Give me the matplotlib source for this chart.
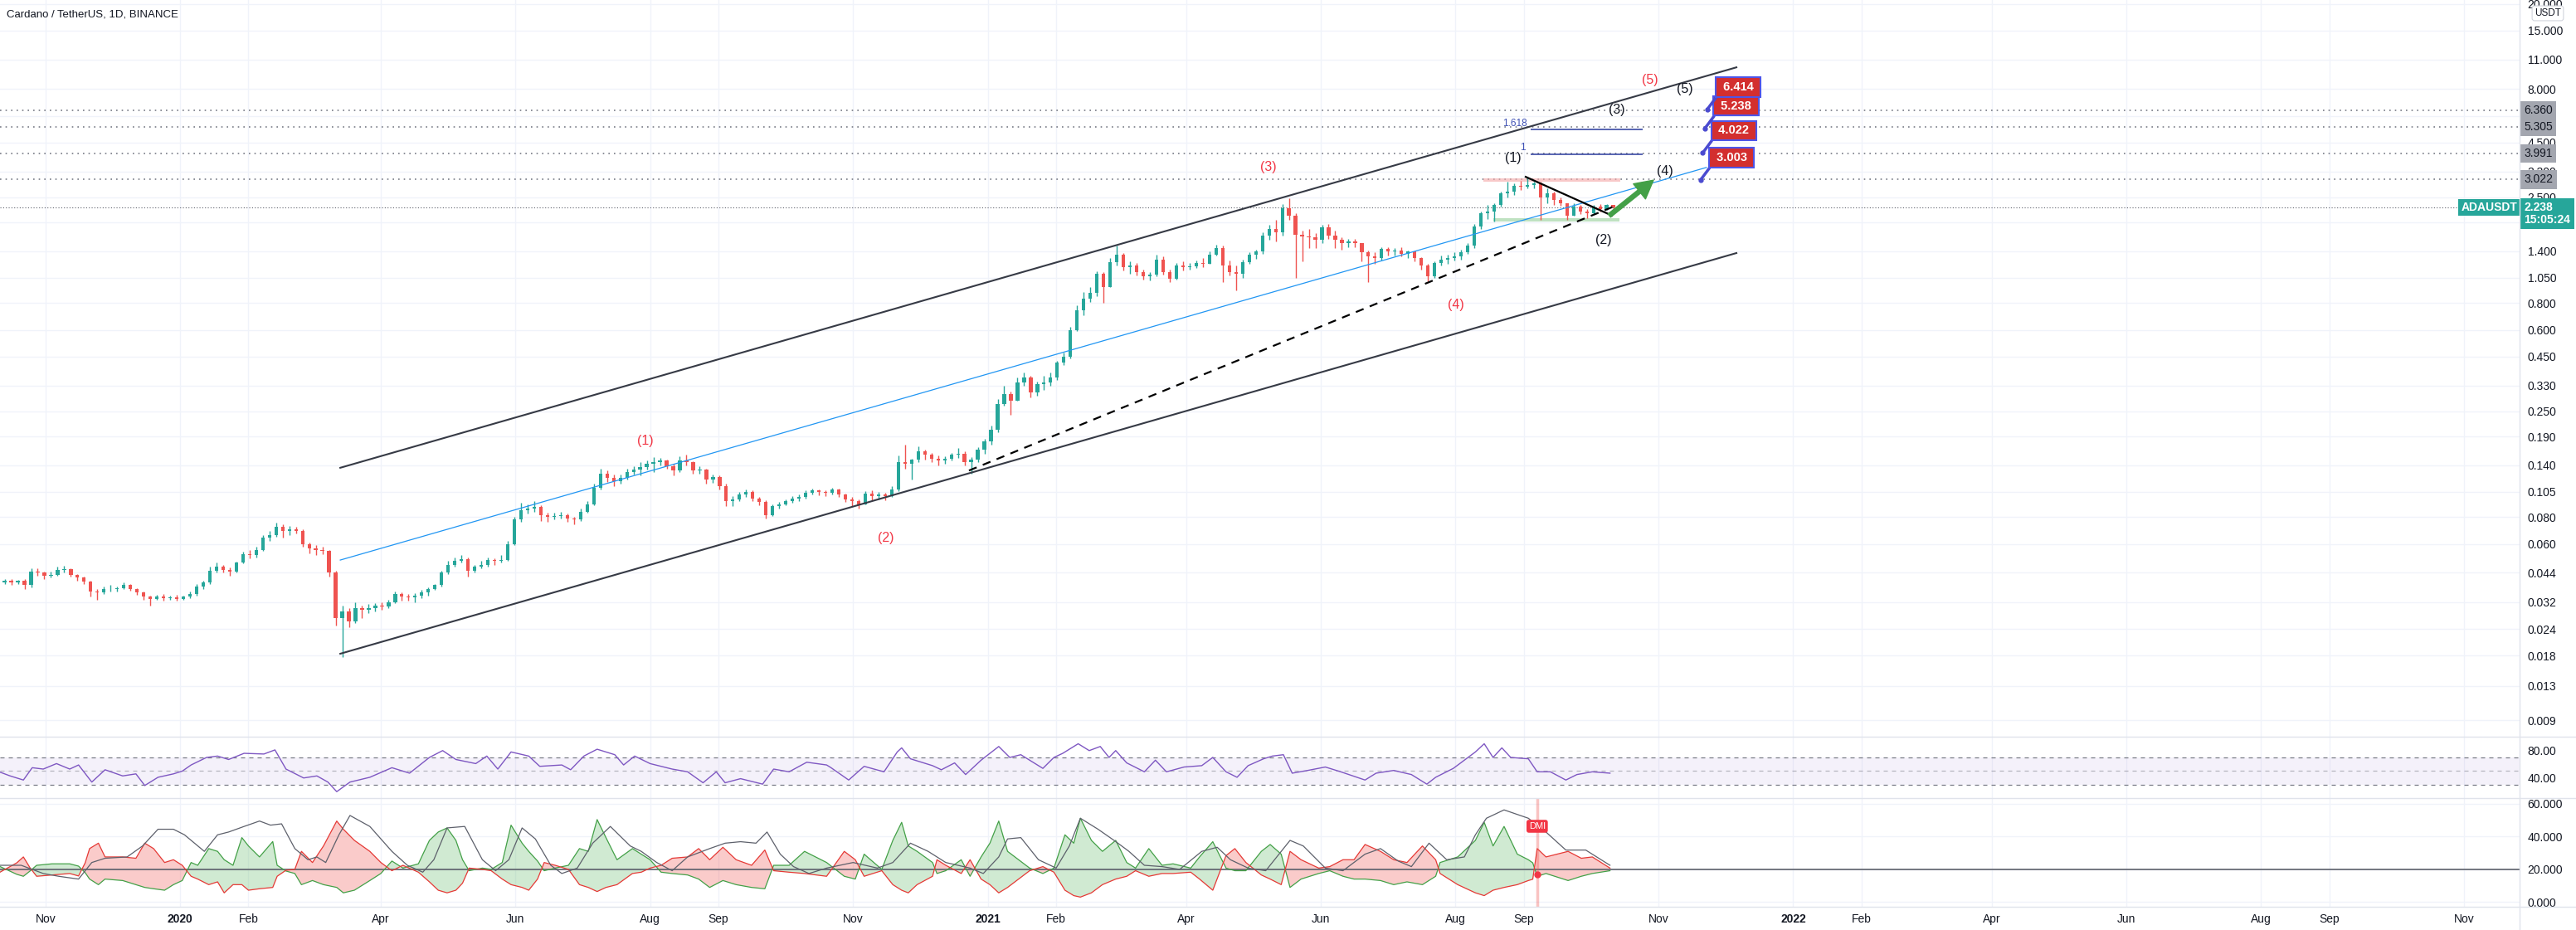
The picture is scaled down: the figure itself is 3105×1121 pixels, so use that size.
import numpy as np
import pandas as pd
import matplotlib
matplotlib.use('Agg')
import matplotlib.pyplot as plt
import matplotlib.transforms as mtransforms
from matplotlib.lines import Line2D
from matplotlib.ticker import FuncFormatter, NullLocator

plt.rcParams['font.family'] = ['Liberation Sans Narrow', 'Liberation Sans', 'DejaVu Sans']

# ---- price data: 3-day candles (ADA/USDT) ----
candle_start = '2019-10-12'
candle_step = 3
first_open = 0.0395
close = [
    0.0405, 0.0398, 0.0402, 0.0385, 0.0445, 0.0440, 0.0425, 0.0430, 0.0455, 0.0458,
    0.0430, 0.0418, 0.0400, 0.0360, 0.0355, 0.0368, 0.0370, 0.0372, 0.0385, 0.0370,
    0.0355, 0.0340, 0.0332, 0.0340, 0.0335, 0.0338, 0.0332, 0.0340, 0.0350, 0.0380,
    0.0395, 0.0450, 0.0470, 0.0455, 0.0445, 0.0490, 0.0535, 0.0530, 0.0560, 0.0640,
    0.0660, 0.0720, 0.0690, 0.0700, 0.0690, 0.0600, 0.0570, 0.0560, 0.0555, 0.0440,
    0.0270, 0.0290, 0.0260, 0.0300, 0.0295, 0.0300, 0.0310, 0.0305, 0.0320, 0.0350,
    0.0340, 0.0338, 0.0345, 0.0355, 0.0370, 0.0385, 0.0440, 0.0480, 0.0500, 0.0510,
    0.0450, 0.0470, 0.0480, 0.0505, 0.0500, 0.0505, 0.0600, 0.0780, 0.0860, 0.0880,
    0.0890, 0.0820, 0.0800, 0.0810, 0.0820, 0.0790, 0.0780, 0.0850, 0.0920, 0.1100,
    0.1280, 0.1220, 0.1180, 0.1220, 0.1300, 0.1330, 0.1370, 0.1420, 0.1450, 0.1470,
    0.1380, 0.1320, 0.1470, 0.1440, 0.1320, 0.1330, 0.1200, 0.1230, 0.1120, 0.0950,
    0.0970, 0.1020, 0.1050, 0.0980, 0.0940, 0.0820, 0.0900, 0.0920, 0.0950, 0.0980,
    0.0990, 0.1040, 0.1070, 0.1050, 0.1040, 0.1080, 0.1020, 0.0970, 0.0950, 0.0920,
    0.1030, 0.1000, 0.1020, 0.1000, 0.1080, 0.1450, 0.1420, 0.1480, 0.1620, 0.1560,
    0.1500, 0.1470, 0.1500, 0.1560, 0.1580, 0.1440, 0.1480, 0.1650, 0.1810, 0.2050,
    0.2700, 0.3000, 0.2800, 0.3400, 0.3600, 0.3050, 0.3350, 0.3400, 0.3600, 0.4200,
    0.4500, 0.6000, 0.7400, 0.8400, 0.8900, 1.1000, 0.9500, 1.2400, 1.3500, 1.1800,
    1.2000, 1.1200, 1.0700, 1.0900, 1.2800, 1.1200, 1.0400, 1.2000, 1.1800, 1.1900,
    1.2300, 1.2200, 1.3500, 1.4500, 1.2000, 1.1200, 1.1000, 1.2400, 1.3400, 1.3900,
    1.6500, 1.7800, 1.7200, 2.2200, 2.0500, 1.6700, 1.6400, 1.6200, 1.5800, 1.8000,
    1.6500, 1.5800, 1.5200, 1.5500, 1.5200, 1.3800, 1.3200, 1.3000, 1.4300, 1.4000,
    1.4100, 1.3600, 1.3900, 1.3000, 1.2000, 1.0700, 1.2300, 1.2800, 1.3000, 1.3200,
    1.3800, 1.4800, 1.8200, 2.1000, 2.1500, 2.3000, 2.6000, 2.6500, 2.8300, 2.8000,
    2.8600, 2.9000, 2.5000, 2.6000, 2.4200, 2.3500, 2.0500, 2.2500, 2.1500, 2.1000,
    2.2500, 2.2000, 2.3000, 2.2380,
]
high = [
    0.0412, 0.0410, 0.0408, 0.0410, 0.0460, 0.0460, 0.0445, 0.0445, 0.0470, 0.0475,
    0.0460, 0.0435, 0.0420, 0.0405, 0.0370, 0.0380, 0.0385, 0.0380, 0.0395, 0.0390,
    0.0372, 0.0358, 0.0345, 0.0348, 0.0350, 0.0345, 0.0348, 0.0345, 0.0360, 0.0390,
    0.0405, 0.0470, 0.0490, 0.0480, 0.0465, 0.0495, 0.0550, 0.0560, 0.0580, 0.0660,
    0.0690, 0.0755, 0.0740, 0.0730, 0.0720, 0.0700, 0.0610, 0.0590, 0.0580, 0.0560,
    0.0450, 0.0310, 0.0300, 0.0320, 0.0310, 0.0315, 0.0318, 0.0320, 0.0330, 0.0360,
    0.0355, 0.0350, 0.0352, 0.0365, 0.0375, 0.0390, 0.0450, 0.0500, 0.0520, 0.0530,
    0.0520, 0.0480, 0.0500, 0.0520, 0.0515, 0.0530, 0.0620, 0.0800, 0.0930, 0.0920,
    0.0950, 0.0910, 0.0840, 0.0840, 0.0850, 0.0830, 0.0800, 0.0880, 0.0950, 0.1150,
    0.1350, 0.1320, 0.1260, 0.1260, 0.1340, 0.1380, 0.1450, 0.1470, 0.1520, 0.1510,
    0.1480, 0.1420, 0.1540, 0.1560, 0.1460, 0.1380, 0.1340, 0.1260, 0.1250, 0.1150,
    0.1000, 0.1050, 0.1080, 0.1070, 0.0990, 0.0960, 0.0920, 0.0940, 0.0970, 0.1000,
    0.1020, 0.1070, 0.1090, 0.1080, 0.1070, 0.1100, 0.1090, 0.1030, 0.0990, 0.0970,
    0.1060, 0.1070, 0.1050, 0.1040, 0.1120, 0.1550, 0.1750, 0.1500, 0.1720, 0.1650,
    0.1600, 0.1550, 0.1540, 0.1600, 0.1680, 0.1620, 0.1520, 0.1700, 0.1860, 0.2150,
    0.2850, 0.3300, 0.3100, 0.3600, 0.3800, 0.3650, 0.3450, 0.3650, 0.3800, 0.4300,
    0.4700, 0.6200, 0.7800, 0.9000, 0.9500, 1.1300, 1.1200, 1.3000, 1.4800, 1.3700,
    1.2500, 1.2300, 1.1500, 1.1200, 1.3500, 1.3200, 1.1500, 1.2300, 1.2500, 1.2300,
    1.2600, 1.3000, 1.4000, 1.5000, 1.4800, 1.2700, 1.2000, 1.2800, 1.3800, 1.4200,
    1.7200, 1.8600, 1.9500, 2.3200, 2.4600, 2.1000, 1.7500, 1.7800, 1.7000, 1.8500,
    1.8800, 1.7500, 1.6300, 1.5900, 1.6000, 1.5200, 1.4100, 1.3800, 1.4600, 1.4600,
    1.4500, 1.4600, 1.4100, 1.4000, 1.3100, 1.2200, 1.2500, 1.3300, 1.3400, 1.3800,
    1.4200, 1.5200, 1.8800, 2.1500, 2.3000, 2.3500, 2.6500, 2.9500, 2.9000, 2.9800,
    3.1000, 2.9500, 2.9500, 2.7500, 2.6500, 2.5000, 2.3500, 2.3500, 2.3000, 2.2000,
    2.3000, 2.3200, 2.3200, 2.3000,
]
low = [
    0.0390, 0.0385, 0.0388, 0.0370, 0.0375, 0.0425, 0.0412, 0.0418, 0.0425, 0.0440,
    0.0420, 0.0405, 0.0390, 0.0340, 0.0330, 0.0350, 0.0358, 0.0360, 0.0368, 0.0362,
    0.0348, 0.0330, 0.0310, 0.0328, 0.0325, 0.0328, 0.0325, 0.0328, 0.0335, 0.0345,
    0.0370, 0.0390, 0.0440, 0.0440, 0.0425, 0.0440, 0.0485, 0.0515, 0.0520, 0.0555,
    0.0620, 0.0650, 0.0640, 0.0660, 0.0670, 0.0580, 0.0540, 0.0530, 0.0535, 0.0420,
    0.0250, 0.0178, 0.0245, 0.0255, 0.0270, 0.0285, 0.0290, 0.0295, 0.0300, 0.0318,
    0.0325, 0.0325, 0.0320, 0.0335, 0.0345, 0.0365, 0.0380, 0.0435, 0.0470, 0.0490,
    0.0420, 0.0440, 0.0460, 0.0470, 0.0480, 0.0490, 0.0500, 0.0590, 0.0760, 0.0830,
    0.0850, 0.0770, 0.0760, 0.0780, 0.0790, 0.0760, 0.0740, 0.0770, 0.0840, 0.0910,
    0.1080, 0.1170, 0.1120, 0.1150, 0.1200, 0.1260, 0.1250, 0.1330, 0.1300, 0.1400,
    0.1340, 0.1250, 0.1300, 0.1390, 0.1280, 0.1280, 0.1150, 0.1160, 0.1080, 0.0900,
    0.0900, 0.0950, 0.0990, 0.0950, 0.0910, 0.0790, 0.0810, 0.0880, 0.0910, 0.0930,
    0.0950, 0.0980, 0.1020, 0.1010, 0.1000, 0.1020, 0.0990, 0.0940, 0.0900, 0.0880,
    0.0920, 0.0960, 0.0970, 0.0960, 0.0990, 0.1060, 0.1350, 0.1200, 0.1450, 0.1480,
    0.1450, 0.1400, 0.1420, 0.1470, 0.1510, 0.1400, 0.1280, 0.1450, 0.1580, 0.1750,
    0.2000, 0.2650, 0.2400, 0.2850, 0.3300, 0.2900, 0.2950, 0.3150, 0.3300, 0.3500,
    0.4100, 0.4400, 0.5900, 0.7000, 0.8100, 0.8600, 0.8000, 1.0200, 1.2000, 1.1400,
    1.1000, 1.0800, 1.0300, 1.0200, 1.0700, 1.0900, 1.0000, 1.0300, 1.1400, 1.1500,
    1.1700, 1.1800, 1.2200, 1.3300, 1.0000, 1.0800, 0.9200, 1.0500, 1.2200, 1.2900,
    1.3600, 1.5800, 1.5500, 1.6500, 1.9500, 1.0500, 1.2500, 1.4500, 1.4500, 1.5200,
    1.6000, 1.4500, 1.4200, 1.4600, 1.4600, 1.2500, 1.0000, 1.2200, 1.2700, 1.3300,
    1.3300, 1.3200, 1.3000, 1.2500, 1.1500, 1.0100, 1.0500, 1.2000, 1.2200, 1.2600,
    1.2800, 1.3600, 1.4500, 1.7800, 1.9800, 1.9300, 2.2500, 2.5000, 2.5500, 2.7000,
    2.7500, 2.7500, 1.9500, 2.3500, 2.3000, 2.2800, 1.9500, 2.0500, 2.0800, 2.0000,
    2.0800, 2.1500, 2.1700, 2.1600,
]
last_price = 2.238

# ---- RSI (days since 2020-01-01) ----
rsi_t = [-82, -77, -71, -67, -62, -56, -50, -46, -40, -34, -26, -20, -16, -10, -3, 1, 5, 12, 17, 22,
         29, 38, 43, 48, 56, 62, 67, 71, 77, 86, 96, 104, 113, 119, 125, 134, 139, 144, 150, 158,
         163, 173, 177, 183, 189, 197, 201, 206, 213, 223, 230, 237, 243, 247, 254, 264, 269, 276, 284, 293,
         295, 303, 310, 319, 325, 327, 331, 341, 345, 351, 356, 363, 371, 376, 381, 391, 396, 400, 407, 412,
         417, 421, 424, 429, 437, 442, 447, 455, 463, 468, 474, 479, 484, 491, 495, 500, 504, 511, 519, 526,
         537, 542, 550, 558, 565, 569, 577, 582, 587, 591, 595, 599, 603, 611, 615, 621, 628, 633, 640, 648]
rsi_v = [49, 43, 37, 55, 53, 61, 53, 59, 34, 52, 43, 46, 29, 41, 46, 50, 59, 70, 72, 67,
         76, 75, 81, 53, 40, 43, 34, 20, 34, 41, 55, 47, 70, 80, 67, 61, 72, 53, 78, 72,
         57, 59, 52, 72, 82, 74, 59, 72, 61, 53, 49, 33, 49, 33, 39, 31, 53, 49, 63, 59,
         55, 37, 57, 49, 78, 84, 68, 58, 52, 62, 45, 66, 86, 70, 74, 54, 70, 76, 90, 80,
         86, 70, 80, 62, 49, 66, 49, 56, 58, 70, 49, 41, 58, 68, 72, 74, 47, 51, 56, 49,
         37, 47, 51, 45, 31, 41, 54, 66, 78, 90, 70, 84, 70, 68, 49, 49, 37, 45, 49, 47]

# ---- DMI: +DI / -DI and ADX ----
dmi_t = [-82, -74, -71, -68, -65, -58, -50, -46, -43, -41,
         -37, -34, -26, -20, -16, -12, -7, -3, 1, 5,
         8, 13, 17, 20, 24, 28, 31, 36, 42, 44,
         48, 52, 55, 60, 65, 71, 74, 79, 86, 91,
         96, 101, 108, 113, 117, 121, 125, 128, 131, 137,
         141, 146, 150, 155, 158, 162, 165, 170, 176, 181,
         185, 189, 193, 198, 205, 209, 213, 218, 223, 230,
         235, 240, 246, 252, 259, 265, 269, 276, 283, 293,
         301, 306, 310, 318, 323, 327, 330, 334, 341, 343,
         347, 354, 358, 363, 367, 371, 375, 380, 385, 391,
         396, 401, 405, 408, 413, 418, 424, 429, 433, 439,
         445, 450, 458, 462, 468, 474, 478, 483, 490, 494,
         499, 503, 508, 516, 521, 527, 532, 537, 544, 550,
         556, 563, 569, 571, 579, 587, 591, 595, 600, 606,
         611, 613, 615, 619, 629, 635, 640, 648]
plus_di = [22, 17, 15.8, 19, 22.5, 23.4, 23.4, 22, 18, 14.1,
           10.7, 14.1, 13.2, 10.7, 9, 8.2, 7.3, 10.7, 13.2, 24.2,
           22.5, 32.7, 31, 25.9, 22.5, 39.4, 34.3, 27.6, 37, 22.5,
           19, 17.5, 10.7, 13.2, 10.7, 9, 5.7, 7.3, 13.2, 17.5,
           25.1, 20.8, 23.4, 37.7, 42.8, 45.3, 37.7, 25.9, 19.2, 20.8,
           20, 24.2, 47, 36, 31, 25.1, 19.2, 20.8, 22.5, 32.7,
           31, 50.4, 39.4, 25.9, 32.7, 29.3, 25.9, 18.3, 17.5, 16.6,
           14.1, 9, 13.2, 10.7, 9, 8.2, 22.5, 22.5, 31, 24.2,
           15.8, 14.1, 29.3, 20, 37.7, 48.7, 34.3, 31, 24.2, 17.5,
           19.2, 25.9, 15.8, 27.6, 36, 49.5, 31, 25.9, 20.8, 17.5,
           20.8, 41.1, 36, 51.2, 37.7, 31, 37.7, 24.2, 20.8, 32.7,
           22.5, 23.4, 20.8, 27.6, 36.9, 20.8, 19.2, 19.2, 31, 35.2,
           29.3, 9, 14.1, 17.5, 19.2, 15.8, 14.1, 14.1, 13.2, 10.7,
           12.4, 10.7, 15.8, 24.2, 27.6, 37.7, 48.7, 34.3, 46.2, 29.3,
           25.9, 24, 15.8, 17.5, 13.2, 15.8, 17.5, 19.2]
minus_di = [18, 24, 27.6, 21, 15.8, 16.6, 17.5, 16, 24, 32.7,
            36, 27.6, 27.6, 26.8, 36, 32.7, 24.2, 25.9, 22.5, 15.8,
            14.1, 10.7, 12.4, 5.7, 10.7, 10.7, 7.3, 8.2, 9, 15.8,
            19.5, 20, 31, 24.2, 34.3, 49.5, 44.5, 37.7, 31, 24.2,
            19.2, 22.5, 18.3, 12.4, 7.3, 5.7, 7.3, 11.6, 20.8, 20,
            19.2, 14.1, 10.7, 9, 7.3, 14.1, 24.2, 22.5, 20, 10.7,
            9, 6.5, 9, 10.7, 17.5, 18.3, 20.8, 22.5, 26.8, 27.6,
            32.7, 25.9, 33.5, 25.9, 22.5, 31.8, 19.2, 18.3, 17.5, 15.8,
            31, 25.9, 15.8, 19.2, 10.7, 7.3, 5.7, 10.7, 15.8, 25.9,
            22.5, 17.5, 25.9, 14.1, 10.7, 5.7, 9, 14.1, 19.2, 21.7,
            18.3, 7.3, 4, 3.1, 5.7, 10.7, 14.1, 15.8, 19.2, 15.8,
            17.5, 17.5, 18.3, 14.1, 7.3, 28.4, 32.7, 24.2, 16.6, 14.1,
            10.7, 31, 25.9, 20.8, 21.7, 25.9, 25.9, 35.2, 31, 25.9,
            24.2, 34.3, 25.9, 17.5, 10.7, 5.7, 4, 7.3, 9, 10.7,
            13.2, 14, 32.7, 27.6, 31, 26.8, 27.6, 20.8]
adx_t = [-82, -72, -62, -55, -46, -40, -34, -24, -17, -10, -3, 2, 11, 17, 22, 29, 36, 41, 46, 52,
         58, 62, 66, 72, 77, 86, 96, 103, 110, 115, 121, 129, 137, 143, 149, 155, 161, 168, 173, 180,
         187, 195, 204, 209, 216, 223, 230, 240, 247, 254, 261, 266, 272, 278, 285, 293, 305, 316, 323, 331,
         339, 347, 358, 364, 371, 375, 381, 389, 397, 403, 408, 416, 424, 430, 437, 445, 453, 463, 470, 476,
         484, 492, 503, 509, 519, 527, 537, 544, 552, 558, 566, 574, 582, 587, 592, 600, 611, 619, 628, 637, 648]
adx_v = [22.5, 22.5, 17.5, 15.8, 14.1, 24.2, 26.8, 27.6, 34.3, 44.5, 44.5, 41.1, 31, 41.1, 42.8, 46.2, 49.5, 47, 47.8, 32.7,
         25.9, 27.6, 24.2, 41.1, 52.9, 46.2, 31, 22.5, 18.3, 25.9, 45.3, 46.2, 25.9, 19.2, 25.9, 45.3, 38.6, 22.5, 17.5, 20.8,
         36, 46.2, 34.3, 31, 24.2, 19.2, 27.6, 32.7, 36, 36.9, 36, 42.8, 29.3, 21.7, 17.5, 20.8, 24.2, 20.8, 24.2, 36,
         31, 24.2, 20.8, 17.5, 27.6, 38.6, 39.4, 25.9, 20.8, 34.3, 51.2, 44.5, 37, 31, 22.5, 21.7, 20, 31, 33.5, 25.9,
         20.8, 19.2, 37.7, 34.3, 20.8, 19.2, 29.3, 32.7, 25.1, 21.7, 36, 25.9, 27.6, 41.1, 51.2, 56.3, 51.2, 42.8, 31.8, 31.8, 22.5]
dmi_signal_day = 615

# ---- drawings on the price pane ----
level_prices = [6.360, 5.305, 3.991, 3.022]
target_prices = [3.003, 4.022, 5.238, 6.414]
target_days = [689, 690, 691, 692]
price_ticks = [20, 15, 11, 8, 6, 4.5, 3.3, 2.5, 1.9, 1.4, 1.05, 0.8, 0.6, 0.45, 0.33, 0.25,
               0.19, 0.14, 0.105, 0.08, 0.06, 0.044, 0.032, 0.024, 0.018, 0.013, 0.009]
hidden_ticks = [1.9]  # covered by the last-price tag in the reference
red_waves = ['(1)', '(2)', '(3)', '(4)', '(5)']
red_wave_day = [211, 320, 493, 578, 666]
red_wave_px = [0.182, 0.0637, 3.44, 0.781, 8.77]
black_wave_day = [604, 645, 651, 673, 682]
black_wave_px = [3.82, 1.567, 6.36, 3.29, 7.95]

tick_dates = ['2019-11-01', '2020-01-01', '2020-02-01', '2020-04-01', '2020-06-01', '2020-08-01',
              '2020-09-01', '2020-11-01', '2021-01-01', '2021-02-01', '2021-04-01', '2021-06-01',
              '2021-08-01', '2021-09-01', '2021-11-01', '2022-01-01', '2022-02-01', '2022-04-01',
              '2022-06-01', '2022-08-01', '2022-09-01', '2022-11-01']
tick_labels = ['Nov', '2020', 'Feb', 'Apr', 'Jun', 'Aug', 'Sep', 'Nov', '2021', 'Feb', 'Apr', 'Jun',
               'Aug', 'Sep', 'Nov', '2022', 'Feb', 'Apr', 'Jun', 'Aug', 'Sep', 'Nov']

base = pd.Timestamp('2020-01-01')


def day(s):
    return (pd.Timestamp(s) - base).days


W, H = 3105, 1121
fig = plt.figure(figsize=(W / 100, H / 100), dpi=100)
fig.patch.set_facecolor('white')


def box(x0, y0, x1, y1):
    return [x0 / W, 1 - y1 / H, (x1 - x0) / W, (y1 - y0) / H]


ax = fig.add_axes(box(0, 0, 3037, 888))
ax_rsi = fig.add_axes(box(0, 888, 3037, 962), sharex=ax)
ax_dmi = fig.add_axes(box(0, 962, 3037, 1093), sharex=ax)

GRID = '#f0f3fa'
TXT = '#131722'
UP, DOWN = '#26a69a', '#ef5350'

# Candles
c = np.array(close)
o = np.r_[first_open, c[:-1]]
hi = np.maximum(np.array(high), np.maximum(o, c))
lo = np.minimum(np.array(low), np.minimum(o, c))
t = day(candle_start) + candle_step * np.arange(len(c)) + candle_step / 2
col = np.where(c >= o, UP, DOWN)
ax.set_yscale('log')
ax.vlines(t, lo, hi, colors=col, lw=1.0, zorder=3)
ax.bar(t, np.abs(c - o), bottom=np.minimum(o, c), width=1.6, color=col,
       linewidth=0, zorder=3)

# Horizontal levels
for v in level_prices:
    ax.axhline(v, color='#787b86', lw=1.2, ls=(0, (1, 3)), zorder=2)
ax.axhline(last_price, color='#5d606b', lw=0.8, ls=(0, (1, 2)), zorder=2)

# Channel, median and trend lines
ax.plot([72.6, 705.3], [0.136, 10.1], color='#363a45', lw=1.5, zorder=4)
ax.plot([72.6, 705.3], [0.0184, 1.37], color='#363a45', lw=1.5, zorder=4)
ax.plot([72.6, 691.7], [0.0504, 3.44], color='#2196f3', lw=0.9, zorder=4)
ax.plot([357.5, 651.5], [0.132, 2.30], color='black', lw=1.6, dashes=(4.5, 3.6), zorder=4)
ax.plot([609.8, 648.9], [3.11, 2.05], color='black', lw=1.6, zorder=4)

# Support / resistance zones
ax.fill_between([590.6, 652.6], 2.95, 3.07, color='#f4a6a6', alpha=0.6, lw=0, zorder=2)
ax.fill_between([595.0, 652.3], 1.92, 1.99, color='#a5d6a7', alpha=0.7, lw=0, zorder=2)

# Fibonacci extension
ax.hlines([5.18, 3.96], 612, 662.8, color='#2a3a9c', lw=1.1, zorder=4)
ax.text(605, 5.5, '1.618', color='#3f51b5', fontsize=8.5, ha='center', va='center',
        family='Liberation Sans')
ax.text(608.6, 4.26, '1', color='#3f51b5', fontsize=8.5, ha='center', va='center',
        family='Liberation Sans')

# Green projection arrow
ax.annotate('', xy=(667.7, 3.0), xytext=(647.7, 2.05),
            arrowprops=dict(arrowstyle='simple,head_length=1.3,head_width=1.4,tail_width=0.3',
                            fc='#43a047', ec='#43a047', shrinkA=0, shrinkB=0,
                            mutation_scale=12), zorder=6)

# Wave labels
for lbl, d, v in zip(red_waves, red_wave_day, red_wave_px):
    ax.text(d, v, lbl, color='#f23645', fontsize=11.5, ha='center', va='center',
            family='Liberation Sans', zorder=6)
for lbl, d, v in zip(red_waves, black_wave_day, black_wave_px):
    ax.text(d, v, lbl, color=TXT, fontsize=11.5, ha='center', va='center',
            family='Liberation Sans', zorder=6)

# Target price labels
for d, v in zip(target_days, target_prices):
    ax.plot(d, v, 'o', color='#4a4ad0', ms=3.5, zorder=6)
    ax.annotate(f' {v:.3f} ', xy=(d, v), xytext=(27, 19.5), textcoords='offset points',
                ha='center', va='center', color='white', fontsize=10.5, fontweight='bold',
                family='Liberation Sans',
                bbox=dict(boxstyle='square,pad=0.32', fc='#d32f2f', ec='#4d55e8', lw=1.5),
                arrowprops=dict(arrowstyle='-', color='#4a4ad0', lw=2.5, shrinkA=0,
                                shrinkB=0, relpos=(0, 0)), zorder=7)

ax.set_ylim(0.007536, 20.84)
ax.set_yticks(price_ticks)
ax.yaxis.set_minor_locator(NullLocator())
ax.yaxis.set_major_formatter(
    FuncFormatter(lambda v, _: '' if any(abs(v - h) < 1e-9 for h in hidden_ticks) else f'{v:.3f}'))

# Price-axis boxes
trans = mtransforms.blended_transform_factory(ax.transAxes, ax.transData)
for v in level_prices:
    ax.annotate(f'{v:.3f}', xy=(1, v), xycoords=trans, xytext=(4, 0),
                textcoords='offset points', ha='left', va='center', fontsize=10,
                color=TXT, annotation_clip=False, zorder=8,
                bbox=dict(boxstyle='square,pad=0.3', fc='#a3a6af', ec='none'))
ax.annotate(f'{last_price:.3f}\n15:05:24', xy=(1, last_price), xycoords=trans,
            xytext=(4, -5.4), textcoords='offset points', ha='left', va='center',
            fontsize=10, color='white', fontweight='bold', linespacing=1.05,
            annotation_clip=False, zorder=8,
            bbox=dict(boxstyle='square,pad=0.3', fc=UP, ec='none'))
ax.annotate('ADAUSDT', xy=(1, last_price), xycoords=trans, xytext=(-2, 0),
            textcoords='offset points', ha='right', va='center', fontsize=10,
            color='white', fontweight='bold', annotation_clip=False, zorder=8,
            bbox=dict(boxstyle='square,pad=0.25', fc=UP, ec='none'))

# RSI pane
ax_rsi.axhspan(30, 70, color='#7e57c2', alpha=0.08, lw=0)
for lvl, a in [(70, 1.0), (50, 0.5), (30, 1.0)]:
    ax_rsi.axhline(lvl, color='#787b86', lw=0.9, ls=(0, (4, 4)), alpha=a)
ax_rsi.plot(rsi_t, rsi_v, color='#7e57c2', lw=1.0)
ax_rsi.set_ylim(10.6, 100.3)
ax_rsi.set_yticks([40, 80])
ax_rsi.yaxis.set_major_formatter(FuncFormatter(lambda v, _: f'{v:.2f}'))

# DMI pane
pdi = np.array(plus_di)
mdi = np.array(minus_di)
ax_dmi.fill_between(dmi_t, pdi, mdi, where=pdi >= mdi, interpolate=True,
                    color='#66bb6a', alpha=0.3, lw=0)
ax_dmi.fill_between(dmi_t, pdi, mdi, where=pdi < mdi, interpolate=True,
                    color='#ef5350', alpha=0.3, lw=0)
ax_dmi.axhline(20, color='#5d606b', lw=1.2)
ax_dmi.plot(dmi_t, pdi, color='#43a047', lw=0.9)
ax_dmi.plot(dmi_t, mdi, color='#e53935', lw=0.9)
ax_dmi.plot(adx_t, adx_v, color='#5d606b', lw=0.9)
ax_dmi.axvline(dmi_signal_day, color='#ef5350', alpha=0.35, lw=2.5)
ax_dmi.plot(dmi_signal_day, 17, 'o', color='#f23645', ms=5)
ax_dmi.text(dmi_signal_day, 46.3, 'DMI', ha='center', va='center', color='white',
            fontsize=8, bbox=dict(boxstyle='round,pad=0.25', fc='#f23645', ec='none'))
ax_dmi.set_ylim(-2.8, 63.5)
ax_dmi.set_yticks([0, 20, 40, 60])
ax_dmi.yaxis.set_major_formatter(FuncFormatter(lambda v, _: f'{v:.3f}'))

# Shared x axis
ax_dmi.set_xticks([day(s) for s in tick_dates], tick_labels)
ax.set_xlim(-81.6, 1060.2)
for lab in ax_dmi.get_xticklabels():
    if lab.get_text().startswith('20'):
        lab.set_fontweight('bold')

for a in (ax, ax_rsi, ax_dmi):
    for s in a.spines.values():
        s.set_visible(False)
    a.yaxis.tick_right()
    a.tick_params(axis='both', length=0, labelsize=10, labelcolor=TXT)
    a.tick_params(axis='y', pad=7)
    a.set_axisbelow(True)
    a.set_facecolor('white')
ax.grid(True, color=GRID, lw=1)
ax_rsi.grid(True, axis='x', color=GRID, lw=1)
ax_dmi.grid(True, color=GRID, lw=1)
ax.tick_params(labelbottom=False)
ax_rsi.tick_params(labelbottom=False)
ax_dmi.tick_params(axis='x', pad=6)

# Pane separators and price-axis border
for y in (888, 962, 1093):
    fig.add_artist(Line2D([0, 1], [1 - y / H] * 2, transform=fig.transFigure,
                          color='#e0e3eb', lw=1))
fig.add_artist(Line2D([3037 / W] * 2, [0, 1], transform=fig.transFigure,
                      color='#e0e3eb', lw=1))

fig.text(8 / W, 1 - 17 / H, 'Cardano / TetherUS, 1D, BINANCE', ha='left', va='center',
         fontsize=9.5, color=TXT, family='Liberation Sans')
fig.text(3071 / W, 1 - 16 / H, 'USDT', ha='center', va='center', fontsize=8.5, color=TXT,
         bbox=dict(boxstyle='round,pad=0.25', fc='white', ec='#d1d4dc', lw=0.8))

fig.savefig('out.png', dpi=100, facecolor='white')
